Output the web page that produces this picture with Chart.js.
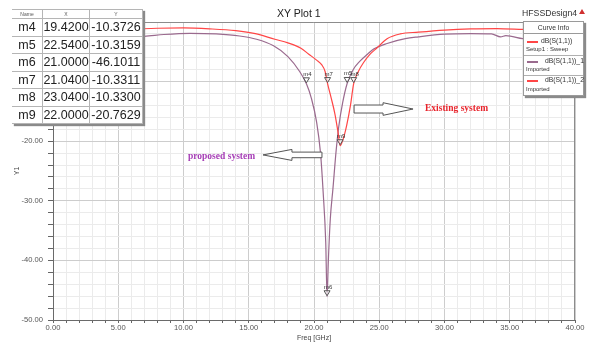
<!DOCTYPE html>
<html>
<head>
<meta charset="utf-8">
<script src="https://cdn.jsdelivr.net/npm/chart.js@4.4.1/dist/chart.umd.min.js"></script>
<style>
  body { margin: 0; background: #fff; font-family: "Liberation Sans", Arial, sans-serif; }
  #wrap { position: relative; width: 592px; height: 345px; overflow: hidden; }
  #c { position: absolute; left: 0; top: 0; }
  .txt { position: absolute; white-space: nowrap; line-height: 1; }
  #title { left: 277px; top: 8px; font-size: 10.5px; color: #222; }
  #design { left: 522px; top: 9px; font-size: 8.7px; color: #333; }
  #tri { position: absolute; left: 579px; top: 9px; width: 0; height: 0;
         border-left: 3px solid transparent; border-right: 3px solid transparent; border-bottom: 5px solid #d03030; }
  .note { font-family: "Liberation Serif", "Times New Roman", serif; font-weight: bold; font-size: 9.5px; }
  #propTxt { left: 188px; top: 152px; color: #a63eb6; }
  #existTxt { left: 425px; top: 104px; color: #e8242c; }

  #tbl { position: absolute; left: 12px; top: 9px; border-collapse: collapse; background: #fff;
         box-shadow: 2px 2px 1px #8a8a8a; }
  #tbl td, #tbl th { border: 1px solid #b5b5b5; text-align: center; padding: 0; color: #222; }
  #tbl th { height: 8px; font-size: 5px; font-weight: normal; color: #555; }
  #tbl td { height: 16.5px; font-size: 12.5px; }
  #tbl tr > *:first-child { border-left: none; }

  #legend { position: absolute; left: 523px; top: 21px; width: 59px; height: 73px; background: #fff;
            border: 1px solid #9a9a9a; box-shadow: 2px 2px 1px #8a8a8a; }
  #legend .hd { position: absolute; left: 0; top: 0; width: 59px; height: 11px; border-bottom: 1px solid #9a9a9a;
                font-size: 6.8px; text-align: center; line-height: 11px; color: #333; }
  #legend .sep { position: absolute; left: 0; width: 59px; border-top: 1px solid #b0b0b0; }
  #legend .sw { position: absolute; left: 3px; width: 11px; height: 0; border-top: 2px solid; }
  #legend .nm { position: absolute; font-size: 6.8px; color: #333; line-height: 1; }
  #legend .sub { position: absolute; left: 2px; font-size: 6px; color: #333; line-height: 1; }
</style>
</head>
<body>
<div id="wrap">
  <canvas id="c" width="592" height="345"></canvas>
  <div class="txt" id="title">XY Plot 1</div>
  <div class="txt" id="design">HFSSDesign4</div>
  <div id="tri"></div>
  <div class="txt note" id="propTxt">proposed system</div>
  <div class="txt note" id="existTxt">Existing system</div>
  <table id="tbl"></table>
  <div id="legend">
    <div class="hd">Curve Info</div>
    <div class="sw" style="top:19px;border-color:#ff4646"></div>
    <div class="nm" style="left:17px;top:16px">dB(S(1,1))</div>
    <div class="sub" style="top:24px">Setup1 : Sweep</div>
    <div class="sep" style="top:33px"></div>
    <div class="sw" style="top:39px;border-color:#9a6a8e"></div>
    <div class="nm" style="left:21px;top:36px">dB(S(1,1))_1</div>
    <div class="sub" style="top:44px">Imported</div>
    <div class="sep" style="top:53px"></div>
    <div class="sw" style="top:58px;border-color:#ff4646"></div>
    <div class="nm" style="left:21px;top:55px">dB(S(1,1))_2</div>
    <div class="sub" style="top:64px">Imported</div>
  </div>
</div>
<script>
// existing system (red)
const existingFreq = [0, 2, 4, 6, 8, 10, 12, 14, 15.5, 17, 18, 19, 19.6, 20.2, 20.6, 20.85, 21.04, 21.3, 21.6, 21.85, 22.0, 22.2, 22.5, 22.8, 23.04, 23.4, 23.8, 24.3, 24.8, 25.6, 26.6, 28, 30, 32, 34, 36, 38, 40];
const existingDb = [-1.6, -1.45, -1.3, -1.2, -1.05, -1.0, -1.15, -1.45, -1.95, -2.9, -3.5, -4.4, -5.4, -6.4, -7.2, -8.3, -10.33, -12.6, -15.4, -18.6, -20.76, -19.9, -17.4, -13.9, -10.33, -8.3, -6.8, -5.4, -4.4, -2.8, -2.0, -1.7, -1.35, -1.15, -1.1, -1.25, -1.4, -1.5];

// proposed system (purple)
const proposedFreq = [0, 2, 4, 6, 7, 8.5, 10.5, 12.5, 14.3, 15.6, 16.9, 18, 18.9, 19.42, 19.8, 20.2, 20.5, 20.7, 20.9, 21.0, 21.1, 21.25, 21.45, 21.7, 21.9, 22.2, 22.54, 23.0, 23.5, 24.1, 24.6, 25.6, 27, 28, 30, 32, 33.6, 34.3, 34.7, 36, 38, 40];
const proposedDb = [-3.0, -2.8, -2.6, -2.45, -2.4, -2.1, -1.9, -2.0, -2.35, -2.9, -4.0, -5.8, -8.3, -10.37, -12.8, -16.8, -22, -28.5, -37, -46.1, -40, -33, -28, -21.5, -17.5, -13.5, -10.32, -8.0, -6.6, -5.4, -4.5, -3.6, -2.8, -2.5, -2.05, -1.95, -2.0, -2.5, -2.3, -2.8, -3.2, -3.5];

// markers
const markerNames = ["m4", "m5", "m6", "m7", "m8", "m9"];
const markerFreq = [19.42, 22.54, 21.0, 21.04, 23.04, 22.0];
const markerDb = [-10.3726, -10.3159, -46.1011, -10.3311, -10.33, -20.7629];

// marker table
const tbl = document.getElementById("tbl");
let html = '<tr><th style="width:30px">Name</th><th style="width:46px">X</th><th style="width:52px">Y</th></tr>';
markerNames.forEach((n, i) => {
  html += `<tr><td>${n}</td><td>${markerFreq[i].toFixed(4)}</td><td>${markerDb[i].toFixed(4)}</td></tr>`;
});
tbl.innerHTML = html;

const toPts = (xs, ys) => xs.map((x, i) => ({ x: x, y: ys[i] }));

function blockArrow(ctx, tail, tip, headBase, yc, bh, hh) {
  ctx.beginPath();
  ctx.moveTo(tail, yc - bh);
  ctx.lineTo(headBase, yc - bh);
  ctx.lineTo(headBase, yc - hh);
  ctx.lineTo(tip, yc);
  ctx.lineTo(headBase, yc + hh);
  ctx.lineTo(headBase, yc + bh);
  ctx.lineTo(tail, yc + bh);
  ctx.closePath();
  ctx.fillStyle = "#fff";
  ctx.fill();
  ctx.stroke();
}

const hfssMarks = {
  id: "hfssMarks",
  afterDatasetsDraw(chart) {
    const { ctx, chartArea: a, scales: { x, y } } = chart;
    ctx.save();
    // top + right frame
    ctx.strokeStyle = "#8c8c8c";
    ctx.lineWidth = 1;
    ctx.beginPath();
    ctx.moveTo(a.left, a.top + 0.5);
    ctx.lineTo(a.right - 0.5, a.top + 0.5);
    ctx.lineTo(a.right - 0.5, a.bottom);
    ctx.stroke();

    // markers
    ctx.font = "6px 'Liberation Sans', Arial, sans-serif";
    ctx.textAlign = "center";
    ctx.textBaseline = "alphabetic";
    markerNames.forEach((n, i) => {
      const px = x.getPixelForValue(markerFreq[i]);
      const py = y.getPixelForValue(markerDb[i]);
      ctx.beginPath();
      ctx.moveTo(px - 3, py - 6);
      ctx.lineTo(px + 3, py - 6);
      ctx.lineTo(px, py - 1);
      ctx.closePath();
      ctx.fillStyle = "rgba(255,255,255,0.6)";
      ctx.fill();
      ctx.strokeStyle = "#555";
      ctx.stroke();
      ctx.fillStyle = "#333";
      ctx.fillText(n, px + 1, py - 8);
    });

    // outline arrows
    ctx.strokeStyle = "#555";
    ctx.lineWidth = 1;
    blockArrow(ctx, x.getPixelForValue(20.61), x.getPixelForValue(16.09), x.getPixelForValue(18.31),
      y.getPixelForValue(-22.3), 2.8, 5.5);
    blockArrow(ctx, x.getPixelForValue(23.07), x.getPixelForValue(27.59), x.getPixelForValue(25.29),
      y.getPixelForValue(-14.6), 4, 6.3);
    ctx.restore();
  }
};

const tickFont = { family: "'Liberation Sans', Arial, sans-serif", size: 7.6 };

new Chart(document.getElementById("c"), {
  type: "line",
  data: {
    datasets: [
      {
        label: "dB(S(1,1))_1",
        data: toPts(proposedFreq, proposedDb),
        borderColor: "#9a6a8e",
        borderWidth: 1.2,
        pointRadius: 0,
        cubicInterpolationMode: "monotone",
        order: 2
      },
      {
        label: "dB(S(1,1))",
        data: toPts(existingFreq, existingDb),
        borderColor: "#ff4646",
        borderWidth: 1.2,
        pointRadius: 0,
        cubicInterpolationMode: "monotone",
        order: 1
      }
    ]
  },
  options: {
    responsive: false,
    animation: false,
    layout: { padding: { left: 0, top: 22, right: 17, bottom: 0 } },
    plugins: { legend: { display: false }, tooltip: { enabled: false } },
    scales: {
      x: {
        type: "linear",
        min: 0,
        max: 40,
        afterFit: s => { s.height = 25; },
        ticks: {
          stepSize: 1,
          autoSkip: false,
          maxRotation: 0,
          padding: 0,
          color: "#555",
          font: tickFont,
          callback: v => (v % 5 === 0 ? v.toFixed(2) : "")
        },
        grid: {
          color: c => (c.tick && c.tick.value % 5 === 0 ? "#cdcdcd" : "#ebebeb"),
          tickColor: "#666",
          tickLength: 3
        },
        border: { color: "#6a6a6a", width: 1 },
        title: {
          display: true,
          text: "Freq [GHz]",
          color: "#444",
          font: { family: "'Liberation Sans', Arial, sans-serif", size: 7 },
          padding: { top: 0, bottom: 3 }
        }
      },
      y: {
        type: "linear",
        min: -50,
        max: 0,
        afterFit: s => { s.width = 53; },
        ticks: {
          stepSize: 2,
          autoSkip: false,
          padding: 5,
          color: "#555",
          font: tickFont,
          callback: v => (v % 10 === 0 ? v.toFixed(2) : "")
        },
        grid: {
          color: c => (c.tick && c.tick.value % 10 === 0 ? "#cdcdcd" : "#ebebeb"),
          tickColor: "#666",
          tickLength: 5
        },
        border: { color: "#6a6a6a", width: 1 },
        title: {
          display: true,
          text: "Y1",
          color: "#444",
          font: { family: "'Liberation Sans', Arial, sans-serif", size: 7 },
          padding: { top: 12.8, bottom: 0 }
        }
      }
    }
  },
  plugins: [hfssMarks]
});
</script>
</body>
</html>
